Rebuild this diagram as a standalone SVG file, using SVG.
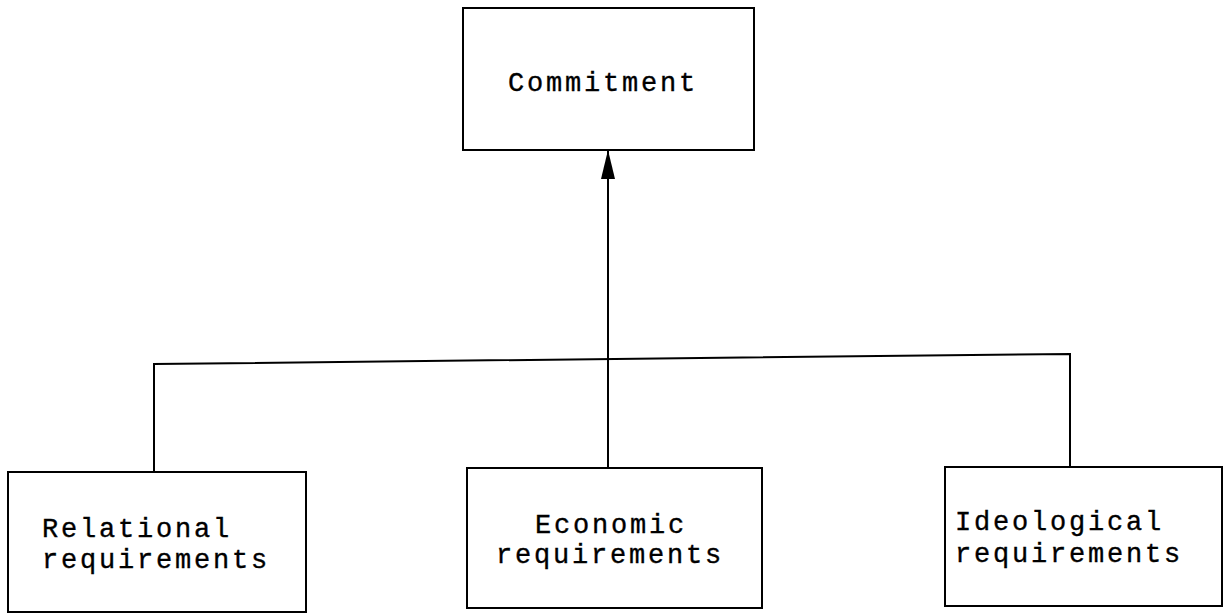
<svg xmlns="http://www.w3.org/2000/svg" width="1225" height="614" viewBox="0 0 1225 614">
<style>
.box{fill:#fff;stroke:#000;stroke-width:2}
.lbl{font-family:"Liberation Mono","Courier New",monospace;font-size:27px;letter-spacing:2.8px;fill:#000;stroke:#000;stroke-width:0.35}
.conn{fill:none;stroke:#000;stroke-width:2}
</style>
<g id="connectors">
<polyline class="conn" points="154,472 154,364 1070,354 1070,467"/>
<line class="conn" x1="608" y1="468" x2="608" y2="151"/>
<path d="M608 150 L615 179 L601 179 Z" fill="#000"/>
</g>
<g id="commitment">
<rect class="box" x="463" y="8" width="291" height="142"/>
<text class="lbl" x="508" y="91">Commitment</text>
</g>
<g id="relational">
<rect class="box" x="8" y="472" width="298" height="140"/>
<text class="lbl" x="42" y="537">Relational</text>
<text class="lbl" x="42" y="568">requirements</text>
</g>
<g id="economic">
<rect class="box" x="467" y="468" width="295" height="140"/>
<text class="lbl" x="535" y="533">Economic</text>
<text class="lbl" x="496" y="563">requirements</text>
</g>
<g id="ideological">
<rect class="box" x="945" y="467" width="277" height="139"/>
<text class="lbl" x="955" y="530">Ideological</text>
<text class="lbl" x="955" y="562">requirements</text>
</g>
</svg>
